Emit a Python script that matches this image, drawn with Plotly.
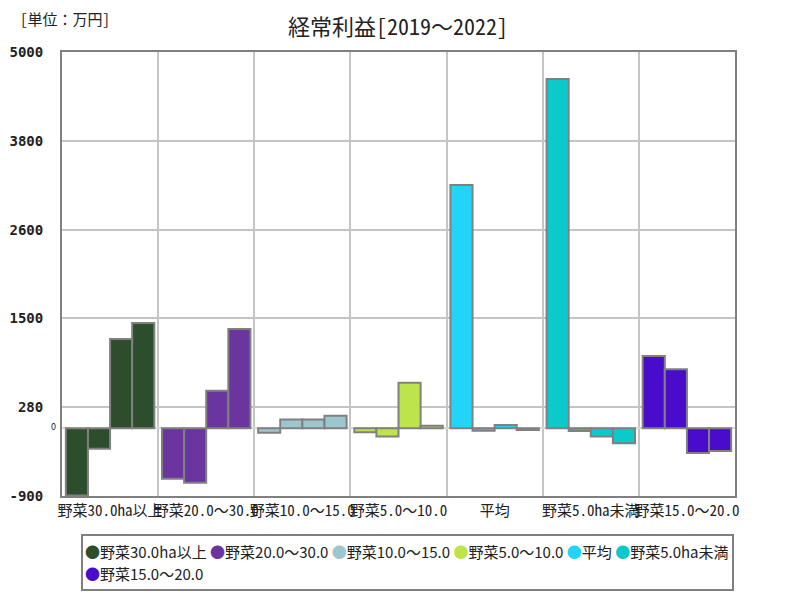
import plotly.graph_objects as go

categories = ["野菜30.0ha以上", "野菜20.0～30.0", "野菜10.0～15.0", "野菜5.0～10.0",
              "平均", "野菜5.0ha未満", "野菜15.0～20.0"]
legend_labels = ["野菜30.0ha以上", "野菜20.0～30.0", "野菜10.0～15.0", "野菜5.0～10.0",
                 "平均", "野菜5.0ha未満", "野菜15.0～20.0"]
years = ["2019", "2020", "2021", "2022"]
# values per category = [2019, 2020, 2021, 2022]
v_30 = [-895, -271, 1187, 1399]
v_20_30 = [-670, -723, 500, 1320]
v_10_15 = [-58, 115, 115, 167]
v_5_10 = [-53, -111, 606, 35]
v_avg = [3233, -32, 44, -23]
v_5_less = [4642, -36, -111, -200]
v_15_20 = [961, 784, -328, -302]
values = [v_30, v_20_30, v_10_15, v_5_10, v_avg, v_5_less, v_15_20]
colors = ["#2d4e2d", "#6b35a0", "#9ec6cf", "#bde44a", "#22d4f8", "#0ccacc", "#4a0ccc"]
tick_vals = [-900, 280, 1460, 2640, 3820, 5000]
tick_text = ["-900", "280", "1500", "2600", "3800", "5000"]

MONO = "Noto Sans Mono CJK JP, Noto Sans CJK JP"

fig = go.Figure()
for yi, yr in enumerate(years):
    fig.add_trace(go.Bar(
        x=categories,
        y=[values[c][yi] for c in range(len(categories))],
        name=yr,
        marker=dict(color=colors, line=dict(color="#808080", width=2)),
        showlegend=False,
    ))

# legend drawn as text rows (two rows like the reference)
def entry(lab, col):
    return f"<span style='color:{col}'>●</span>{lab}"

GAP = "\u00a0"
row1 = GAP.join(entry(l, c) for l, c in zip(legend_labels[:6], colors[:6]))
row2 = GAP.join(entry(l, c) for l, c in zip(legend_labels[6:], colors[6:]))

# page has an 8px body margin; the figure is sized so the plot area sits at
# window x 62..735, y 52..496
OFF = 8
W = 673.0
H = 444.0
def px_x(px):
    return (px - 62) / W
def px_y(py):
    return (496 - py) / H

fig.update_layout(
    width=800 - OFF, height=600 - OFF,
    paper_bgcolor="white", plot_bgcolor="white",
    margin=dict(l=62 - OFF, r=800 - 735, t=52 - OFF, b=600 - 496, autoexpand=False),
    barmode="group", bargap=0.08, bargroupgap=0,
    font=dict(family="Noto Sans CJK JP", color="#222"),
    title=dict(text="経常利益[2019～2022]", x=(398 - OFF) / (800 - OFF), xanchor="center",
               y=1 - (27 - OFF) / (600 - OFF), yanchor="middle",
               font=dict(size=22, color="#222", family=MONO)),
    showlegend=False,
    xaxis=dict(type="category", tickson="boundaries", showgrid=True,
               gridcolor="#c4c4c4", gridwidth=2, ticks="", tickangle=0,
               showline=True, linecolor="#808080", linewidth=2, mirror=True,
               automargin=False,
               tickfont=dict(size=15, color="#222", family=MONO),
               range=[-0.5, 6.5]),
    yaxis=dict(range=[-900, 5000], tickvals=tick_vals, ticktext=tick_text,
               showgrid=True, gridcolor="#c4c4c4", gridwidth=2,
               zeroline=True, zerolinecolor="#d8d8d8", zerolinewidth=2,
               showline=True, linecolor="#808080", linewidth=2, mirror=True,
               automargin=False,
               tickfont=dict(size=14, color="#222", family="DejaVu Sans Mono", weight="bold"),
               ticks="", ticklabelstandoff=14),
    shapes=[dict(type="rect", xref="paper", yref="paper",
                 x0=px_x(82), x1=px_x(733), y0=px_y(590), y1=px_y(535),
                 line=dict(color="#808080", width=2), fillcolor="rgba(0,0,0,0)")],
    annotations=[
        dict(text="[単位：万円]", xref="paper", yref="paper", x=px_x(18), y=px_y(19),
             xanchor="left", yanchor="middle", showarrow=False,
             font=dict(size=15, color="#222", family=MONO)),
        dict(text="0", xref="paper", yref="y", x=0, y=0, xanchor="right",
             yanchor="middle", xshift=-4, yshift=2, showarrow=False,
             font=dict(size=9, color="#222")),
        dict(text=row1, xref="paper", yref="paper", x=px_x(83), y=px_y(551),
             xanchor="left", yanchor="middle", showarrow=False,
             font=dict(size=15, color="#222")),
        dict(text=row2, xref="paper", yref="paper", x=px_x(83), y=px_y(573),
             xanchor="left", yanchor="middle", showarrow=False,
             font=dict(size=15, color="#222")),
    ],
)

fig.write_html("out.html")
